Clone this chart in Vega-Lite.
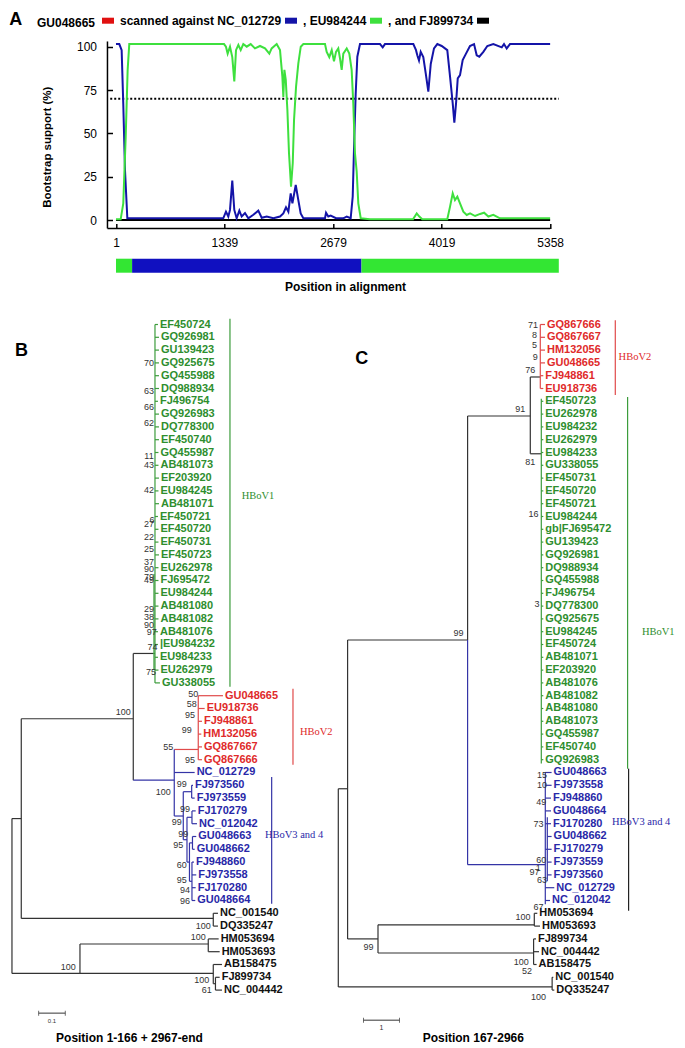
{
  "$schema": "https://vega.github.io/schema/vega-lite/v6.json",
  "padding": {"left": 9.3, "top": 10, "right": 2, "bottom": 2},
  "background": "white",
  "config": {"view": {"stroke": null}, "font": "Liberation Sans"},
  "datasets": {
    "scan": [
      {"series":"FJ899734","pos":1,"support":0},{"series":"FJ899734","pos":5358,"support":0},
      {"series":"NC_012729","pos":1,"support":101.5},{"series":"NC_012729","pos":42,"support":101.5},{"series":"NC_012729","pos":71,"support":98},{"series":"NC_012729","pos":91,"support":67},{"series":"NC_012729","pos":112,"support":29},{"series":"NC_012729","pos":141,"support":1},{"series":"NC_012729","pos":1325,"support":1},{"series":"NC_012729","pos":1358,"support":4.8},{"series":"NC_012729","pos":1387,"support":2},{"series":"NC_012729","pos":1408,"support":5.8},{"series":"NC_012729","pos":1436,"support":22.7},{"series":"NC_012729","pos":1461,"support":5.8},{"series":"NC_012729","pos":1490,"support":1},{"series":"NC_012729","pos":1523,"support":5.4},{"series":"NC_012729","pos":1552,"support":2},{"series":"NC_012729","pos":1593,"support":4},{"series":"NC_012729","pos":1634,"support":1},{"series":"NC_012729","pos":1696,"support":3},{"series":"NC_012729","pos":1757,"support":5.4},{"series":"NC_012729","pos":1799,"support":1.3},{"series":"NC_012729","pos":1861,"support":2},{"series":"NC_012729","pos":1943,"support":1},{"series":"NC_012729","pos":2025,"support":2},{"series":"NC_012729","pos":2066,"support":3.8},{"series":"NC_012729","pos":2099,"support":7.3},{"series":"NC_012729","pos":2128,"support":4.8},{"series":"NC_012729","pos":2157,"support":15.4},{"series":"NC_012729","pos":2178,"support":9.6},{"series":"NC_012729","pos":2219,"support":20.2},{"series":"NC_012729","pos":2251,"support":11.5},{"series":"NC_012729","pos":2280,"support":3.8},{"series":"NC_012729","pos":2313,"support":1},{"series":"NC_012729","pos":2580,"support":1},{"series":"NC_012729","pos":2593,"support":4.2},{"series":"NC_012729","pos":2621,"support":2},{"series":"NC_012729","pos":2650,"support":2.5},{"series":"NC_012729","pos":2716,"support":1},{"series":"NC_012729","pos":2806,"support":1},{"series":"NC_012729","pos":2848,"support":2},{"series":"NC_012729","pos":2897,"support":1},{"series":"NC_012729","pos":2922,"support":13.5},{"series":"NC_012729","pos":2942,"support":48},{"series":"NC_012729","pos":2959,"support":73},{"series":"NC_012729","pos":2979,"support":94.2},{"series":"NC_012729","pos":3012,"support":101.5},{"series":"NC_012729","pos":3259,"support":101.5},{"series":"NC_012729","pos":3292,"support":99.6},{"series":"NC_012729","pos":3320,"support":101.5},{"series":"NC_012729","pos":3670,"support":101.5},{"series":"NC_012729","pos":3703,"support":98},{"series":"NC_012729","pos":3719,"support":95},{"series":"NC_012729","pos":3740,"support":92},{"series":"NC_012729","pos":3761,"support":97},{"series":"NC_012729","pos":3793,"support":94},{"series":"NC_012729","pos":3823,"support":84.6},{"series":"NC_012729","pos":3855,"support":74},{"series":"NC_012729","pos":3885,"support":90},{"series":"NC_012729","pos":3925,"support":99},{"series":"NC_012729","pos":3966,"support":101.5},{"series":"NC_012729","pos":4020,"support":100.4},{"series":"NC_012729","pos":4089,"support":98},{"series":"NC_012729","pos":4123,"support":82.7},{"series":"NC_012729","pos":4156,"support":67.3},{"series":"NC_012729","pos":4176,"support":56.2},{"series":"NC_012729","pos":4197,"support":67.3},{"series":"NC_012729","pos":4218,"support":81.7},{"series":"NC_012729","pos":4246,"support":83.6},{"series":"NC_012729","pos":4279,"support":92.3},{"series":"NC_012729","pos":4320,"support":96},{"series":"NC_012729","pos":4369,"support":100.4},{"series":"NC_012729","pos":4419,"support":101.5},{"series":"NC_012729","pos":4452,"support":95},{"series":"NC_012729","pos":4484,"support":94.2},{"series":"NC_012729","pos":4534,"support":97},{"series":"NC_012729","pos":4583,"support":100.4},{"series":"NC_012729","pos":4657,"support":101.5},{"series":"NC_012729","pos":4761,"support":99.6},{"series":"NC_012729","pos":4789,"support":101.5},{"series":"NC_012729","pos":4822,"support":99},{"series":"NC_012729","pos":4863,"support":101.5},{"series":"NC_012729","pos":5358,"support":101.5},
      {"series":"EU984244","pos":1,"support":0.4},{"series":"EU984244","pos":59,"support":0.4},{"series":"EU984244","pos":91,"support":9.6},{"series":"EU984244","pos":121,"support":48},{"series":"EU984244","pos":145,"support":86.6},{"series":"EU984244","pos":165,"support":101.5},{"series":"EU984244","pos":1334,"support":101.5},{"series":"EU984244","pos":1358,"support":100},{"series":"EU984244","pos":1379,"support":96},{"series":"EU984244","pos":1408,"support":100},{"series":"EU984244","pos":1436,"support":94},{"series":"EU984244","pos":1461,"support":80},{"series":"EU984244","pos":1482,"support":98},{"series":"EU984244","pos":1511,"support":101},{"series":"EU984244","pos":1540,"support":98},{"series":"EU984244","pos":1572,"support":101.5},{"series":"EU984244","pos":1614,"support":100},{"series":"EU984244","pos":1663,"support":101.5},{"series":"EU984244","pos":1716,"support":99},{"series":"EU984244","pos":1778,"support":100.4},{"series":"EU984244","pos":1840,"support":99},{"series":"EU984244","pos":1893,"support":96},{"series":"EU984244","pos":1922,"support":99},{"series":"EU984244","pos":1984,"support":101.5},{"series":"EU984244","pos":2025,"support":98},{"series":"EU984244","pos":2054,"support":82.7},{"series":"EU984244","pos":2066,"support":71},{"series":"EU984244","pos":2079,"support":86.6},{"series":"EU984244","pos":2096,"support":80.8},{"series":"EU984244","pos":2116,"support":63.5},{"series":"EU984244","pos":2136,"support":38.5},{"series":"EU984244","pos":2161,"support":19.2},{"series":"EU984244","pos":2182,"support":32.7},{"series":"EU984244","pos":2198,"support":57.7},{"series":"EU984244","pos":2223,"support":77},{"series":"EU984244","pos":2251,"support":90.4},{"series":"EU984244","pos":2281,"support":100},{"series":"EU984244","pos":2313,"support":101.5},{"series":"EU984244","pos":2580,"support":101.5},{"series":"EU984244","pos":2601,"support":97},{"series":"EU984244","pos":2633,"support":94},{"series":"EU984244","pos":2663,"support":98},{"series":"EU984244","pos":2691,"support":91.5},{"series":"EU984244","pos":2716,"support":97},{"series":"EU984244","pos":2744,"support":99},{"series":"EU984244","pos":2765,"support":93.3},{"series":"EU984244","pos":2786,"support":86.6},{"series":"EU984244","pos":2806,"support":96},{"series":"EU984244","pos":2848,"support":99},{"series":"EU984244","pos":2880,"support":96},{"series":"EU984244","pos":2909,"support":86.6},{"series":"EU984244","pos":2929,"support":67.3},{"series":"EU984244","pos":2950,"support":38.5},{"series":"EU984244","pos":2971,"support":28},{"series":"EU984244","pos":2991,"support":9.6},{"series":"EU984244","pos":3021,"support":1},{"series":"EU984244","pos":3135,"support":0.4},{"series":"EU984244","pos":3666,"support":0.4},{"series":"EU984244","pos":3712,"support":3.8},{"series":"EU984244","pos":3744,"support":2},{"series":"EU984244","pos":3780,"support":0.4},{"series":"EU984244","pos":4089,"support":0.4},{"series":"EU984244","pos":4123,"support":7.7},{"series":"EU984244","pos":4156,"support":15.4},{"series":"EU984244","pos":4184,"support":11.5},{"series":"EU984244","pos":4213,"support":13.5},{"series":"EU984244","pos":4246,"support":9.6},{"series":"EU984244","pos":4287,"support":4.8},{"series":"EU984244","pos":4329,"support":2.9},{"series":"EU984244","pos":4370,"support":3.8},{"series":"EU984244","pos":4432,"support":2.3},{"series":"EU984244","pos":4494,"support":3.5},{"series":"EU984244","pos":4543,"support":4.2},{"series":"EU984244","pos":4596,"support":2},{"series":"EU984244","pos":4657,"support":3},{"series":"EU984244","pos":4739,"support":1},{"series":"EU984244","pos":5358,"support":1}
    ],
    "align": [
      {"start": 1, "end": 200, "parent": "EU984244"},
      {"start": 200, "end": 3030, "parent": "NC_012729"},
      {"start": 3030, "end": 5465, "parent": "EU984244"}
    ],
    "edgesB": [
      {"x0":0,"x1":0,"y0":39.6,"y1":51.7,"clade":"out"},
      {"x0":0,"x1":0.0349,"y0":39.6,"y1":39.6,"clade":"out"},
      {"x0":0,"x1":0.255,"y0":51.7,"y1":51.7,"clade":"out"},
      {"x0":0.0349,"x1":0.0349,"y0":31.8,"y1":47.4,"clade":"out"},
      {"x0":0.0349,"x1":0.4549,"y0":31.8,"y1":31.8,"clade":"out"},
      {"x0":0.0349,"x1":0.7549,"y0":47.4,"y1":47.4,"clade":"out"},
      {"x0":0.7549,"x1":0.7549,"y0":47,"y1":48,"clade":"out"},
      {"x0":0.255,"x1":0.255,"y0":49.4,"y1":51.7,"clade":"out"},
      {"x0":0.255,"x1":0.7361,"y0":49.4,"y1":49.4,"clade":"out"},
      {"x0":0.7361,"x1":0.7361,"y0":49,"y1":50,"clade":"out"},
      {"x0":0.255,"x1":0.7549,"y0":51.7,"y1":51.7,"clade":"out"},
      {"x0":0.7549,"x1":0.7549,"y0":51,"y1":52.5,"clade":"out"},
      {"x0":0.7549,"x1":0.7631,"y0":52.5,"y1":52.5,"clade":"out"},
      {"x0":0.7631,"x1":0.7631,"y0":52,"y1":53,"clade":"out"},
      {"x0":0.4549,"x1":0.4549,"y0":26.7,"y1":36.6,"clade":"out"},
      {"x0":0.4549,"x1":0.5288,"y0":26.7,"y1":26.7,"clade":"out"},
      {"x0":0.5288,"x1":0.5363,"y0":26.7,"y1":26.7,"clade":"v1"},
      {"x0":0.5363,"x1":0.5363,"y0":1,"y1":29,"clade":"v1"},
      {"x0":0.5325,"x1":0.5325,"y0":20.5,"y1":28,"clade":"v1"},
      {"x0":0.6086,"x1":0.6986,"y0":34.2,"y1":34.2,"clade":"v2"},
      {"x0":0.6986,"x1":0.6986,"y0":30,"y1":35,"clade":"v2"},
      {"x0":0.4549,"x1":0.6086,"y0":36.6,"y1":36.6,"clade":"v34"},
      {"x0":0.6086,"x1":0.6086,"y0":34.2,"y1":39.4,"clade":"v34"},
      {"x0":0.6086,"x1":0.6424,"y0":39.4,"y1":39.4,"clade":"v34"},
      {"x0":0.6424,"x1":0.6424,"y0":37.5,"y1":41.25,"clade":"v34"},
      {"x0":0.6424,"x1":0.6739,"y0":37.5,"y1":37.5,"clade":"v34"},
      {"x0":0.6739,"x1":0.6739,"y0":37,"y1":38,"clade":"v34"},
      {"x0":0.6424,"x1":0.6563,"y0":41.25,"y1":41.25,"clade":"v34"},
      {"x0":0.6563,"x1":0.6563,"y0":39.5,"y1":43,"clade":"v34"},
      {"x0":0.6563,"x1":0.675,"y0":39.5,"y1":39.5,"clade":"v34"},
      {"x0":0.675,"x1":0.675,"y0":39,"y1":40,"clade":"v34"},
      {"x0":0.6563,"x1":0.6656,"y0":43,"y1":43,"clade":"v34"},
      {"x0":0.6656,"x1":0.6656,"y0":41.5,"y1":44.5,"clade":"v34"},
      {"x0":0.6656,"x1":0.6769,"y0":41.5,"y1":41.5,"clade":"v34"},
      {"x0":0.6769,"x1":0.6769,"y0":41,"y1":42,"clade":"v34"},
      {"x0":0.6656,"x1":0.675,"y0":44.5,"y1":44.5,"clade":"v34"},
      {"x0":0.675,"x1":0.675,"y0":43,"y1":46,"clade":"v34"}
    ],
    "leavesB": [
      {"order":1,"name":"EF450724","clade":"v1","from":0.5363,"to":0.5475},
      {"order":2,"name":"GQ926981","clade":"v1","from":0.5363,"to":0.5513},
      {"order":3,"name":"GU139423","clade":"v1","from":0.5363,"to":0.5513},
      {"order":4,"name":"GQ925675","clade":"v1","from":0.5363,"to":0.5513},
      {"order":5,"name":"GQ455988","clade":"v1","from":0.5363,"to":0.5513},
      {"order":6,"name":"DQ988934","clade":"v1","from":0.5363,"to":0.5513},
      {"order":7,"name":"FJ496754","clade":"v1","from":0.5363,"to":0.5475},
      {"order":8,"name":"GQ926983","clade":"v1","from":0.5363,"to":0.5513},
      {"order":9,"name":"DQ778300","clade":"v1","from":0.5363,"to":0.5513},
      {"order":10,"name":"EF450740","clade":"v1","from":0.5363,"to":0.5513},
      {"order":11,"name":"GQ455987","clade":"v1","from":0.5363,"to":0.5494},
      {"order":12,"name":"AB481073","clade":"v1","from":0.5363,"to":0.5494},
      {"order":13,"name":"EF203920","clade":"v1","from":0.5363,"to":0.5513},
      {"order":14,"name":"EU984245","clade":"v1","from":0.5363,"to":0.5494},
      {"order":15,"name":"AB481071","clade":"v1","from":0.5363,"to":0.5513},
      {"order":16,"name":"EF450721","clade":"v1","from":0.5363,"to":0.5475},
      {"order":17,"name":"EF450720","clade":"v1","from":0.5363,"to":0.5494},
      {"order":18,"name":"EF450731","clade":"v1","from":0.5363,"to":0.5494},
      {"order":19,"name":"EF450723","clade":"v1","from":0.5363,"to":0.5513},
      {"order":20,"name":"EU262978","clade":"v1","from":0.5363,"to":0.5494},
      {"order":21,"name":"FJ695472","clade":"v1","from":0.5363,"to":0.5494},
      {"order":22,"name":"EU984244","clade":"v1","from":0.5363,"to":0.5494},
      {"order":23,"name":"AB481080","clade":"v1","from":0.5363,"to":0.5494},
      {"order":24,"name":"AB481082","clade":"v1","from":0.5363,"to":0.5494},
      {"order":25,"name":"AB481076","clade":"v1","from":0.5363,"to":0.5475},
      {"order":26,"name":"|EU984232","clade":"v1","from":0.5363,"to":0.5475},
      {"order":27,"name":"EU984233","clade":"v1","from":0.5363,"to":0.5475},
      {"order":28,"name":"EU262979","clade":"v1","from":0.5363,"to":0.5494},
      {"order":29,"name":"GU338055","clade":"v1","from":0.5363,"to":0.555},
      {"order":30,"name":"GU048665","clade":"v2","from":0.6986,"to":0.7912},
      {"order":31,"name":"EU918736","clade":"v2","from":0.6986,"to":0.7226},
      {"order":32,"name":"FJ948861","clade":"v2","from":0.6986,"to":0.7125},
      {"order":33,"name":"HM132056","clade":"v2","from":0.6986,"to":0.71},
      {"order":34,"name":"GQ867667","clade":"v2","from":0.6986,"to":0.7125},
      {"order":35,"name":"GQ867666","clade":"v2","from":0.6986,"to":0.7125},
      {"order":36,"name":"NC_012729","clade":"v34","from":0.6086,"to":0.6851},
      {"order":37,"name":"FJ973560","clade":"v34","from":0.6739,"to":0.6788},
      {"order":38,"name":"FJ973559","clade":"v34","from":0.6739,"to":0.6851},
      {"order":39,"name":"FJ170279","clade":"v34","from":0.675,"to":0.6889},
      {"order":40,"name":"NC_012042","clade":"v34","from":0.675,"to":0.6938},
      {"order":41,"name":"GU048663","clade":"v34","from":0.6769,"to":0.6911},
      {"order":42,"name":"GU048662","clade":"v34","from":0.6769,"to":0.6851},
      {"order":43,"name":"FJ948860","clade":"v34","from":0.675,"to":0.6825},
      {"order":44,"name":"FJ973558","clade":"v34","from":0.675,"to":0.6911},
      {"order":45,"name":"FJ170280","clade":"v34","from":0.675,"to":0.6889},
      {"order":46,"name":"GU048664","clade":"v34","from":0.675,"to":0.6874},
      {"order":47,"name":"NC_001540","clade":"out","from":0.7549,"to":0.7725},
      {"order":48,"name":"DQ335247","clade":"out","from":0.7549,"to":0.7725},
      {"order":49,"name":"HM053694","clade":"out","from":0.7361,"to":0.7751},
      {"order":50,"name":"HM053693","clade":"out","from":0.7361,"to":0.7789},
      {"order":51,"name":"AB158475","clade":"out","from":0.7549,"to":0.7875},
      {"order":52,"name":"FJ899734","clade":"out","from":0.7631,"to":0.7789},
      {"order":53,"name":"NC_004442","clade":"out","from":0.7631,"to":0.7875}
    ],
    "bootB": [
      {"u":0.5138,"L":4.0,"label":"70"},{"u":0.5138,"L":6.2,"label":"63"},{"u":0.5138,"L":7.45,"label":"66"},{"u":0.5138,"L":8.67,"label":"62"},{"u":0.5138,"L":11.3,"label":"11"},{"u":0.5138,"L":12.0,"label":"43"},{"u":0.5138,"L":13.95,"label":"42"},{"u":0.525,"L":16.3,"label":"6"},{"u":0.5138,"L":16.56,"label":"27"},{"u":0.5138,"L":17.6,"label":"22"},{"u":0.5138,"L":18.56,"label":"25"},{"u":0.5138,"L":19.55,"label":"37"},{"u":0.5138,"L":20.08,"label":"90"},{"u":0.5138,"L":20.7,"label":"79"},{"u":0.5138,"L":20.96,"label":"49"},{"u":0.5138,"L":23.2,"label":"29"},{"u":0.5138,"L":23.85,"label":"38"},{"u":0.5138,"L":24.45,"label":"90"},{"u":0.5239,"L":25.0,"label":"97"},{"u":0.5269,"L":26.2,"label":"74"},{"u":0.5213,"L":28.15,"label":"75"},
      {"u":0.6799,"L":29.87,"label":"50"},{"u":0.6739,"L":30.63,"label":"58"},{"u":0.6675,"L":31.53,"label":"95"},{"u":0.6551,"L":32.7,"label":"99"},{"u":0.5861,"L":34.0,"label":"55"},{"u":0.6675,"L":35.05,"label":"95"},{"u":0.5674,"L":37.52,"label":"100"},{"u":0.6364,"L":36.87,"label":"99"},{"u":0.6488,"L":38.83,"label":"99"},{"u":0.6176,"L":39.87,"label":"99"},{"u":0.6424,"L":40.83,"label":"99"},{"u":0.6236,"L":41.69,"label":"95"},{"u":0.6364,"L":43.25,"label":"60"},{"u":0.6364,"L":44.42,"label":"95"},{"u":0.6488,"L":45.2,"label":"94"},{"u":0.6488,"L":46.06,"label":"96"},
      {"u":0.7174,"L":47.99,"label":"100"},{"u":0.6986,"L":48.85,"label":"100"},{"u":0.2111,"L":51.2,"label":"100"},{"u":0.7114,"L":52.23,"label":"100"},{"u":0.7301,"L":53.0,"label":"61"},{"u":0.4174,"L":31.27,"label":"100"}
    ],
    "cladesB": [
      {"clade":"v1","x":0.8175,"y0":0.55,"y1":29.3,"label":"HBoV1","lx":0.8614,"ly":14.4},
      {"clade":"v2","x":1.0538,"y0":29.45,"y1":35.4,"label":"HBoV2","lx":1.08,"ly":32.8},
      {"clade":"v34","x":0.9739,"y0":36.35,"y1":46.25,"label":"HBoV3 and 4","lx":0.9488,"ly":40.9}
    ],
    "scaleB": [{"x0":0.1,"x1":0.2,"mid":0.15,"y":54.8,"ly":55.45,"label":"0.1"}],
    "edgesC": [
      {"x0":0,"x1":0,"y0":37.27,"y1":52.75,"clade":"out"},
      {"x0":0,"x1":0.2583,"y0":37.27,"y1":37.27,"clade":"out"},
      {"x0":0,"x1":5.94,"y0":52.75,"y1":52.75,"clade":"out"},
      {"x0":5.94,"x1":5.94,"y0":52,"y1":53,"clade":"out"},
      {"x0":0.2583,"x1":0.2583,"y0":25.65,"y1":49.0,"clade":"out"},
      {"x0":0.2583,"x1":3.5917,"y0":25.65,"y1":25.65,"clade":"out"},
      {"x0":0.2583,"x1":1.1028,"y0":49.0,"y1":49.0,"clade":"out"},
      {"x0":1.1028,"x1":1.1028,"y0":47.9,"y1":50.1,"clade":"out"},
      {"x0":1.1028,"x1":5.4444,"y0":47.9,"y1":47.9,"clade":"out"},
      {"x0":5.4444,"x1":5.4444,"y0":47,"y1":48,"clade":"out"},
      {"x0":1.1028,"x1":5.425,"y0":50.1,"y1":50.1,"clade":"out"},
      {"x0":5.425,"x1":5.425,"y0":49,"y1":51,"clade":"out"},
      {"x0":3.5917,"x1":3.5917,"y0":8.15,"y1":25.65,"clade":"out"},
      {"x0":3.5917,"x1":5.3333,"y0":8.15,"y1":8.15,"clade":"out"},
      {"x0":5.3333,"x1":5.3333,"y0":5.1,"y1":11.1,"clade":"out"},
      {"x0":5.3333,"x1":5.6111,"y0":5.1,"y1":5.1,"clade":"out"},
      {"x0":5.3333,"x1":5.6389,"y0":11.1,"y1":11.1,"clade":"out"},
      {"x0":3.5917,"x1":3.5917,"y0":25.65,"y1":43.2,"clade":"v34"},
      {"x0":3.5917,"x1":5.75,"y0":43.2,"y1":43.2,"clade":"v34"},
      {"x0":5.75,"x1":5.75,"y0":36,"y1":46.3,"clade":"v34"},
      {"x0":5.8056,"x1":5.8056,"y0":39.5,"y1":44.5,"clade":"v34"},
      {"x0":5.75,"x1":5.8056,"y0":42,"y1":42,"clade":"v34"},
      {"x0":5.6111,"x1":5.6111,"y0":1,"y1":6,"clade":"v2"},
      {"x0":5.6389,"x1":5.6389,"y0":6.8,"y1":35.3,"clade":"v1"}
    ],
    "leavesC": [
      {"order":1,"name":"GQ867666","clade":"v2","from":5.6111,"to":5.7417},
      {"order":2,"name":"GQ867667","clade":"v2","from":5.6111,"to":5.7417},
      {"order":3,"name":"HM132056","clade":"v2","from":5.6111,"to":5.7417},
      {"order":4,"name":"GU048665","clade":"v2","from":5.6111,"to":5.7417},
      {"order":5,"name":"FJ948861","clade":"v2","from":5.6111,"to":5.6944},
      {"order":6,"name":"EU918736","clade":"v2","from":5.6111,"to":5.6944},
      {"order":7,"name":"EF450723","clade":"v1","from":5.6389,"to":5.6944},
      {"order":8,"name":"EU262978","clade":"v1","from":5.6389,"to":5.6944},
      {"order":9,"name":"EU984232","clade":"v1","from":5.6389,"to":5.6944},
      {"order":10,"name":"EU262979","clade":"v1","from":5.6389,"to":5.6944},
      {"order":11,"name":"EU984233","clade":"v1","from":5.6389,"to":5.6944},
      {"order":12,"name":"GU338055","clade":"v1","from":5.6389,"to":5.6944},
      {"order":13,"name":"EF450731","clade":"v1","from":5.6389,"to":5.6944},
      {"order":14,"name":"EF450720","clade":"v1","from":5.6389,"to":5.6944},
      {"order":15,"name":"EF450721","clade":"v1","from":5.6389,"to":5.6944},
      {"order":16,"name":"EU984244","clade":"v1","from":5.6389,"to":5.6944},
      {"order":17,"name":"gb|FJ695472","clade":"v1","from":5.6389,"to":5.6944},
      {"order":18,"name":"GU139423","clade":"v1","from":5.6389,"to":5.6944},
      {"order":19,"name":"GQ926981","clade":"v1","from":5.6389,"to":5.6944},
      {"order":20,"name":"DQ988934","clade":"v1","from":5.6389,"to":5.6944},
      {"order":21,"name":"GQ455988","clade":"v1","from":5.6389,"to":5.6944},
      {"order":22,"name":"FJ496754","clade":"v1","from":5.6389,"to":5.6944},
      {"order":23,"name":"DQ778300","clade":"v1","from":5.6389,"to":5.6944},
      {"order":24,"name":"GQ925675","clade":"v1","from":5.6389,"to":5.6944},
      {"order":25,"name":"EU984245","clade":"v1","from":5.6389,"to":5.6944},
      {"order":26,"name":"EF450724","clade":"v1","from":5.6389,"to":5.6944},
      {"order":27,"name":"AB481071","clade":"v1","from":5.6389,"to":5.6944},
      {"order":28,"name":"EF203920","clade":"v1","from":5.6389,"to":5.6944},
      {"order":29,"name":"AB481076","clade":"v1","from":5.6389,"to":5.6944},
      {"order":30,"name":"AB481082","clade":"v1","from":5.6389,"to":5.6944},
      {"order":31,"name":"AB481080","clade":"v1","from":5.6389,"to":5.6944},
      {"order":32,"name":"AB481073","clade":"v1","from":5.6389,"to":5.6944},
      {"order":33,"name":"GQ455987","clade":"v1","from":5.6389,"to":5.6944},
      {"order":34,"name":"EF450740","clade":"v1","from":5.6389,"to":5.6944},
      {"order":35,"name":"GQ926983","clade":"v1","from":5.6389,"to":5.6944},
      {"order":36,"name":"GU048663","clade":"v34","from":5.75,"to":5.925},
      {"order":37,"name":"FJ973558","clade":"v34","from":5.75,"to":5.925},
      {"order":38,"name":"FJ948860","clade":"v34","from":5.75,"to":5.9083},
      {"order":39,"name":"GU048664","clade":"v34","from":5.75,"to":5.9083},
      {"order":40,"name":"FJ170280","clade":"v34","from":5.75,"to":5.9083},
      {"order":41,"name":"GU048662","clade":"v34","from":5.8056,"to":5.925},
      {"order":42,"name":"FJ170279","clade":"v34","from":5.8056,"to":5.925},
      {"order":43,"name":"FJ973559","clade":"v34","from":5.8056,"to":5.925},
      {"order":44,"name":"FJ973560","clade":"v34","from":5.8056,"to":5.925},
      {"order":45,"name":"NC_012729","clade":"v34","from":5.75,"to":6.0},
      {"order":46,"name":"NC_012042","clade":"v34","from":5.75,"to":5.8806},
      {"order":47,"name":"HM053694","clade":"out","from":5.4444,"to":5.5278},
      {"order":48,"name":"HM053693","clade":"out","from":5.4444,"to":5.6028},
      {"order":49,"name":"FJ899734","clade":"out","from":5.425,"to":5.4917},
      {"order":50,"name":"NC_004442","clade":"out","from":5.425,"to":5.575},
      {"order":51,"name":"AB158475","clade":"out","from":5.425,"to":5.5083},
      {"order":52,"name":"NC_001540","clade":"out","from":5.94,"to":5.9722},
      {"order":53,"name":"DQ335247","clade":"out","from":5.94,"to":6.0}
    ],
    "bootC": [
      {"u":3.3417,"L":25.08,"label":"99"},{"u":0.8417,"L":49.63,"label":"99"},{"u":5.5639,"L":53.54,"label":"100"},{"u":5.1306,"L":47.29,"label":"100"},{"u":5.0833,"L":50.8,"label":"100"},{"u":5.2417,"L":51.53,"label":"52"},{"u":5.0556,"L":7.63,"label":"91"},{"u":5.3333,"L":4.58,"label":"76"},{"u":5.3333,"L":11.74,"label":"81"},{"u":5.4083,"L":1.06,"label":"71"},{"u":5.4528,"L":1.84,"label":"8"},{"u":5.4528,"L":2.58,"label":"5"},{"u":5.4722,"L":3.54,"label":"9"},{"u":5.425,"L":15.78,"label":"16"},{"u":5.5194,"L":22.81,"label":"3"},{"u":5.6583,"L":36.22,"label":"15"},{"u":5.6583,"L":37.0,"label":"10"},{"u":5.6389,"L":38.3,"label":"49"},{"u":5.5639,"L":40.0,"label":"73"},{"u":5.6389,"L":42.86,"label":"60"},{"u":5.4528,"L":43.77,"label":"97"},{"u":5.5556,"L":43.46,"label":"1"},{"u":5.6583,"L":44.42,"label":"63"},{"u":5.5639,"L":46.51,"label":"67"}
    ],
    "cladesC": [
      {"clade":"v2","x":7.6944,"y0":0.67,"y1":6.5,"label":"HBoV2","lx":7.786,"ly":3.5},
      {"clade":"v1","x":8.0361,"y0":6.66,"y1":35.7,"label":"HBoV1","lx":8.436,"ly":25.0},
      {"clade":"v34","x":8.0639,"y0":35.7,"y1":46.8,"label":"HBoV3 and 4","lx":7.6028,"ly":39.9}
    ],
    "scaleC": [{"x0":0.7,"x1":1.7,"mid":1.2,"y":55.35,"ly":55.95,"label":"1"}]
  },
  "vconcat": [
    {
      "vconcat": [
        {
          "width": 564.5,
          "height": 182,
          "title": {"text": "A", "anchor": "start", "frame": "group", "offset": 0, "baseline": "alphabetic", "dx": 0, "dy": 31, "fontSize": 18, "fontWeight": "bold", "color": "black"},
          "layer": [
            {
              "data": {"values": [{}]},
              "mark": {"type": "rule", "color": "black", "strokeWidth": 1.5},
              "encoding": {
                "x": {"datum": -104, "type": "quantitative"},
                "y": {"datum": -4.85, "type": "quantitative"},
                "y2": {"datum": 103}
              }
            },
            {
              "data": {"values": [{}]},
              "mark": {"type": "rule", "color": "black", "strokeWidth": 1.5},
              "encoding": {
                "x": {"datum": -104, "type": "quantitative"},
                "x2": {"datum": 5358},
                "y": {"datum": -4.85, "type": "quantitative"}
              }
            },
            {
              "data": {"values": [{}]},
              "mark": {"type": "rule", "color": "black", "strokeWidth": 2, "strokeDash": [2, 2]},
              "encoding": {
                "x": {"datum": -70, "type": "quantitative"},
                "x2": {"datum": 5465},
                "y": {"datum": 70, "type": "quantitative"}
              }
            },
            {
              "data": {"name": "scan"},
              "mark": {"type": "line", "strokeWidth": 2},
              "encoding": {
                "x": {"field": "pos", "type": "quantitative",
                  "scale": {"domain": [-1315.3, 5650], "nice": false, "zero": false},
                  "axis": {"values": [1, 1339, 2679, 4019, 5358], "format": "d", "domain": false, "grid": false, "offset": 8.5, "tickSize": -5, "tickWidth": 1.5, "tickColor": "black", "labelFontSize": 12, "labelColor": "black", "labelPadding": 14, "labelFlush": false, "labelOverlap": false, "title": null}},
                "y": {"field": "support", "type": "quantitative",
                  "scale": {"domain": [0, 105], "nice": false, "zero": false},
                  "axis": {"values": [0, 25, 50, 75, 100], "domain": false, "grid": false, "offset": -98.2, "tickSize": -5, "tickWidth": 1.5, "tickColor": "black", "labelFontSize": 12, "labelColor": "black", "labelPadding": 16, "title": "Bootstrap support (%)", "titleFontSize": 11.5, "titleFontWeight": "bold", "titleColor": "black", "titleX": -59.5, "titleY": 108.7, "titleAngle": 270, "titleAlign": "center", "titleBaseline": "middle"}},
                "color": {"field": "series", "type": "nominal",
                  "scale": {"domain": ["GU048665", "NC_012729", "EU984244", "FJ899734"], "range": ["#e01010", "#1414a8", "#3ee03e", "#000000"]},
                  "legend": {
                    "title": "GU048665", "titleFontSize": 12, "titleFontWeight": "bold", "titleColor": "black", "titleOrient": "left", "titlePadding": 3, "titleFont": "Arial",
                    "orient": "none", "legendX": 27.7, "legendY": -26.3, "direction": "horizontal", "columns": 4,
                    "symbolType": "stroke", "symbolSize": 144, "symbolStrokeWidth": 6,
                    "labelFont": "Arial", "labelFontSize": 12, "labelFontWeight": "bold", "labelColor": "black", "labelOffset": 3, "labelLimit": 300,
                    "columnPadding": -9,
                    "labelExpr": "datum.label == 'GU048665' ? 'scanned against NC_012729' : datum.label == 'NC_012729' ? ', EU984244' : datum.label == 'EU984244' ? ', and FJ899734' : ''"
                  }}
              }
            }
          ]
        },
        {
          "width": 564.5,
          "height": 14,
          "data": {"name": "align"},
          "mark": {"type": "rect"},
          "encoding": {
            "x": {"field": "start", "type": "quantitative", "scale": {"domain": [-1315.3, 5650], "nice": false, "zero": false},
              "axis": {"domain": false, "ticks": false, "labels": false, "grid": false, "title": "Position in alignment", "titleFontSize": 12, "titleFontWeight": "bold", "titleColor": "black", "titleX": 335.7, "titleY": 14, "titleAlign": "center", "titleBaseline": "middle"}},
            "x2": {"field": "end"},
            "color": {"field": "parent", "type": "nominal", "scale": {"domain": ["EU984244", "NC_012729"], "range": ["#33e633", "#1010c0"]}, "legend": null}
          }
        }
      ],
      "spacing": 38.7,
      "bounds": "flush",
      "resolve": {"scale": {"color": "independent"}}
    },
    {
      "hconcat": [
        {
          "width": 320,
          "height": 716.8,
          "title": {"text": "B", "anchor": "start", "frame": "group", "offset": 0, "baseline": "alphabetic", "dx": 5.7, "dy": 62.1, "fontSize": 18, "fontWeight": "bold", "color": "black"},
          "layer": [
            {
              "data": {"name": "edgesB"},
              "mark": {"type": "rule", "strokeWidth": 1.2},
              "encoding": {
                "x": {"field": "x0", "type": "quantitative", "scale": {"domain": [-0.01, 1.19], "nice": false, "zero": false},
                  "axis": {"domain": false, "ticks": false, "labels": false, "grid": false, "title": "Position 1-166 + 2967-end", "titleFontSize": 12, "titleFontWeight": "bold", "titleColor": "black", "titleX": 119.7, "titleY": 9.5, "titleAlign": "center", "titleBaseline": "middle"}},
                "x2": {"field": "x1"},
                "y": {"field": "y0", "type": "quantitative", "scale": {"domain": [0, 56], "reverse": true, "nice": false, "zero": false}, "axis": null},
                "y2": {"field": "y1"},
                "stroke": {"field": "clade", "type": "nominal", "scale": {"domain": ["v1", "v2", "v34", "out"], "range": ["#3c9c3c", "#e04a4a", "#3434a6", "#333333"]}, "legend": null}
              }
            },
            {
              "data": {"name": "leavesB"},
              "mark": {"type": "rule", "strokeWidth": 1.2},
              "encoding": {
                "x": {"field": "from", "type": "quantitative"},
                "x2": {"field": "to"},
                "y": {"field": "order", "type": "quantitative", "axis": null},
                "stroke": {"field": "clade", "type": "nominal", "scale": {"domain": ["v1", "v2", "v34", "out"], "range": ["#3c9c3c", "#e04a4a", "#3434a6", "#333333"]}, "legend": null}
              }
            },
            {
              "data": {"name": "leavesB"},
              "mark": {"type": "text", "align": "left", "baseline": "middle", "dx": 2, "fontSize": 11, "fontWeight": "bold"},
              "encoding": {
                "x": {"field": "to", "type": "quantitative"},
                "y": {"field": "order", "type": "quantitative", "axis": null},
                "text": {"field": "name"},
                "fill": {"field": "clade", "type": "nominal", "scale": {"domain": ["v1", "v2", "v34", "out"], "range": ["#2e8e2e", "#e02a2a", "#2828a8", "#111111"]}, "legend": null}
              }
            },
            {
              "data": {"name": "bootB"},
              "mark": {"type": "text", "align": "center", "baseline": "middle", "fontSize": 9, "fill": "#333333"},
              "encoding": {
                "x": {"field": "u", "type": "quantitative"},
                "y": {"field": "L", "type": "quantitative", "axis": null},
                "text": {"field": "label"}
              }
            },
            {
              "data": {"name": "cladesB"},
              "mark": {"type": "rule", "strokeWidth": 1.2},
              "encoding": {
                "x": {"field": "x", "type": "quantitative"},
                "y": {"field": "y0", "type": "quantitative", "axis": null},
                "y2": {"field": "y1"},
                "color": {"field": "clade", "type": "nominal", "scale": {"domain": ["v1", "v2", "v34"], "range": ["#3c9c3c", "#e04a4a", "#3434a6"]}, "legend": null}
              }
            },
            {
              "data": {"name": "cladesB"},
              "mark": {"type": "text", "align": "left", "baseline": "middle", "font": "Liberation Serif", "fontSize": 10.5},
              "encoding": {
                "x": {"field": "lx", "type": "quantitative"},
                "y": {"field": "ly", "type": "quantitative", "axis": null},
                "text": {"field": "label"},
                "fill": {"field": "clade", "type": "nominal", "scale": {"domain": ["v1", "v2", "v34", "out"], "range": ["#2e8e2e", "#e02a2a", "#2828a8", "#111111"]}, "legend": null}
              }
            },
            {
              "data": {"name": "scaleB"},
              "mark": {"type": "rule", "strokeWidth": 1, "color": "#333333"},
              "encoding": {
                "x": {"field": "x0", "type": "quantitative"},
                "x2": {"field": "x1"},
                "y": {"field": "y", "type": "quantitative", "axis": null}
              }
            },
            {
              "data": {"name": "scaleB"},
              "mark": {"type": "tick", "orient": "vertical", "size": 5, "thickness": 1, "color": "#333333"},
              "encoding": {
                "x": {"field": "x0", "type": "quantitative"},
                "y": {"field": "y", "type": "quantitative", "axis": null}
              }
            },
            {
              "data": {"name": "scaleB"},
              "mark": {"type": "tick", "orient": "vertical", "size": 5, "thickness": 1, "color": "#333333"},
              "encoding": {
                "x": {"field": "x1", "type": "quantitative"},
                "y": {"field": "y", "type": "quantitative", "axis": null}
              }
            },
            {
              "data": {"name": "scaleB"},
              "mark": {"type": "text", "align": "center", "baseline": "middle", "fontSize": 6, "fill": "#333333"},
              "encoding": {
                "x": {"field": "mid", "type": "quantitative"},
                "y": {"field": "ly", "type": "quantitative", "axis": null},
                "text": {"field": "label"}
              }
            }
          ]
        },
        {
          "width": 351,
          "height": 716.8,
          "title": {"text": "C", "anchor": "start", "frame": "group", "offset": 0, "baseline": "alphabetic", "dx": 26, "dy": 70.3, "fontSize": 18, "fontWeight": "bold", "color": "black"},
          "layer": [
            {
              "data": {"name": "edgesC"},
              "mark": {"type": "rule", "strokeWidth": 1.2},
              "encoding": {
                "x": {"field": "x0", "type": "quantitative", "scale": {"domain": [-0.25, 9.5], "nice": false, "zero": false},
                  "axis": {"domain": false, "ticks": false, "labels": false, "grid": false, "title": "Position 167-2966", "titleFontSize": 12, "titleFontWeight": "bold", "titleColor": "black", "titleX": 143.5, "titleY": 9.5, "titleAlign": "center", "titleBaseline": "middle"}},
                "x2": {"field": "x1"},
                "y": {"field": "y0", "type": "quantitative", "scale": {"domain": [0, 56], "reverse": true, "nice": false, "zero": false}, "axis": null},
                "y2": {"field": "y1"},
                "stroke": {"field": "clade", "type": "nominal", "scale": {"domain": ["v1", "v2", "v34", "out"], "range": ["#3c9c3c", "#e04a4a", "#3434a6", "#333333"]}, "legend": null}
              }
            },
            {
              "data": {"name": "leavesC"},
              "mark": {"type": "rule", "strokeWidth": 1.2},
              "encoding": {
                "x": {"field": "from", "type": "quantitative"},
                "x2": {"field": "to"},
                "y": {"field": "order", "type": "quantitative", "axis": null},
                "stroke": {"field": "clade", "type": "nominal", "scale": {"domain": ["v1", "v2", "v34", "out"], "range": ["#3c9c3c", "#e04a4a", "#3434a6", "#333333"]}, "legend": null}
              }
            },
            {
              "data": {"name": "leavesC"},
              "mark": {"type": "text", "align": "left", "baseline": "middle", "dx": 2, "fontSize": 11, "fontWeight": "bold"},
              "encoding": {
                "x": {"field": "to", "type": "quantitative"},
                "y": {"field": "order", "type": "quantitative", "axis": null},
                "text": {"field": "name"},
                "fill": {"field": "clade", "type": "nominal", "scale": {"domain": ["v1", "v2", "v34", "out"], "range": ["#2e8e2e", "#e02a2a", "#2828a8", "#111111"]}, "legend": null}
              }
            },
            {
              "data": {"name": "bootC"},
              "mark": {"type": "text", "align": "center", "baseline": "middle", "fontSize": 9, "fill": "#333333"},
              "encoding": {
                "x": {"field": "u", "type": "quantitative"},
                "y": {"field": "L", "type": "quantitative", "axis": null},
                "text": {"field": "label"}
              }
            },
            {
              "data": {"name": "cladesC"},
              "mark": {"type": "rule", "strokeWidth": 1.2},
              "encoding": {
                "x": {"field": "x", "type": "quantitative"},
                "y": {"field": "y0", "type": "quantitative", "axis": null},
                "y2": {"field": "y1"},
                "color": {"field": "clade", "type": "nominal", "scale": {"domain": ["v1", "v2", "v34"], "range": ["#3c9c3c", "#e04a4a", "#222222"]}, "legend": null}
              }
            },
            {
              "data": {"name": "cladesC"},
              "mark": {"type": "text", "align": "left", "baseline": "middle", "font": "Liberation Serif", "fontSize": 10.5},
              "encoding": {
                "x": {"field": "lx", "type": "quantitative"},
                "y": {"field": "ly", "type": "quantitative", "axis": null},
                "text": {"field": "label"},
                "fill": {"field": "clade", "type": "nominal", "scale": {"domain": ["v1", "v2", "v34", "out"], "range": ["#2e8e2e", "#e02a2a", "#2828a8", "#111111"]}, "legend": null}
              }
            },
            {
              "data": {"name": "scaleC"},
              "mark": {"type": "rule", "strokeWidth": 1, "color": "#333333"},
              "encoding": {
                "x": {"field": "x0", "type": "quantitative"},
                "x2": {"field": "x1"},
                "y": {"field": "y", "type": "quantitative", "axis": null}
              }
            },
            {
              "data": {"name": "scaleC"},
              "mark": {"type": "tick", "orient": "vertical", "size": 5, "thickness": 1, "color": "#333333"},
              "encoding": {
                "x": {"field": "x0", "type": "quantitative"},
                "y": {"field": "y", "type": "quantitative", "axis": null}
              }
            },
            {
              "data": {"name": "scaleC"},
              "mark": {"type": "tick", "orient": "vertical", "size": 5, "thickness": 1, "color": "#333333"},
              "encoding": {
                "x": {"field": "x1", "type": "quantitative"},
                "y": {"field": "y", "type": "quantitative", "axis": null}
              }
            },
            {
              "data": {"name": "scaleC"},
              "mark": {"type": "text", "align": "center", "baseline": "middle", "fontSize": 7, "fill": "#333333"},
              "encoding": {
                "x": {"field": "mid", "type": "quantitative"},
                "y": {"field": "ly", "type": "quantitative", "axis": null},
                "text": {"field": "label"}
              }
            }
          ]
        }
      ],
      "spacing": 0,
      "bounds": "flush",
      "resolve": {"scale": {"color": "independent", "fill": "independent", "stroke": "independent"}}
    }
  ],
  "spacing": 18.7,
  "resolve": {"scale": {"color": "independent", "fill": "independent", "stroke": "independent"}}
}
